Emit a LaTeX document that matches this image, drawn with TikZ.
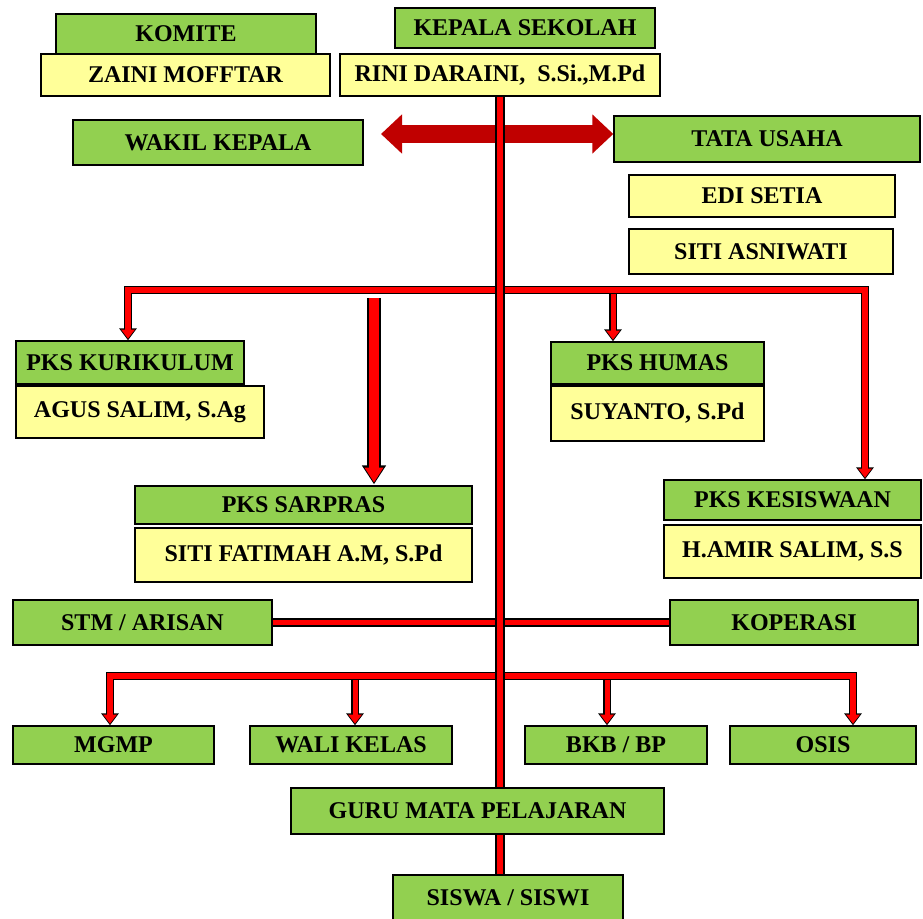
\documentclass[tikz,border=0pt]{standalone}
\usepackage{fontspec}
\setmainfont{Liberation Serif}
\usepackage{tikz}
\usetikzlibrary{arrows.meta,calc}
\definecolor{kgreen}{HTML}{92D050}
\definecolor{kyellow}{HTML}{FFFF99}
\definecolor{kred}{HTML}{FF0000}
\definecolor{kdark}{HTML}{C00000}

\begin{document}
\begin{tikzpicture}[x=1pt, y=-1pt,
  gbox/.style={draw=black, line width=1.4pt, fill=kgreen, inner sep=0pt,
    font=\bfseries\fontsize{24}{26}\selectfont},
  ybox/.style={gbox, fill=kyellow},
  rbar/.style={draw=kred, line width=5.5pt,
    preaction={draw=black, line width=8.5pt}},
  trunk/.style={draw=kred, line width=6.5pt,
    preaction={draw=black, line width=10pt}},
  rdrop/.style={draw=kred, line width=5pt, -{Triangle[length=9pt,width=13pt]}, shorten >=1.6pt,
    preaction={draw=black, line width=8pt, -{Triangle[length=12pt,width=17pt]}, shorten >=0pt}},
  rboth/.style={draw=kred, line width=5.5pt,
    {Triangle[length=9pt,width=13pt]}-{Triangle[length=9pt,width=13pt]}, shorten >=1.6pt, shorten <=1.6pt,
    preaction={draw=black, line width=8.5pt,
      {Triangle[length=12pt,width=17pt]}-{Triangle[length=12pt,width=17pt]}, shorten >=0pt, shorten <=0pt}},
  rbig/.style={draw=kred, line width=10pt, -{Triangle[length=15pt,width=18pt]}, shorten >=1.8pt,
    preaction={draw=black, line width=13.5pt, -{Triangle[length=19pt,width=23pt]}, shorten >=0pt}},
  bigarrow/.style={draw=kdark, line width=18pt,
    {Triangle[length=21pt,width=38pt]}-{Triangle[length=21pt,width=38pt]}}]
\useasboundingbox (0,0) rectangle (923,918);

% top
\node[gbox, minimum width=260pt, minimum height=40pt] (komite) at (186,34) {KOMITE};
\node[ybox, minimum width=289pt, minimum height=42pt] (zaini) at (185.5,75) {ZAINI MOFFTAR};
\node[gbox, minimum width=260pt, minimum height=40pt] (kepala) at (525,28) {KEPALA SEKOLAH};
\node[ybox, minimum width=320pt, minimum height=42pt] (rini) at (500,75) {RINI DARAINI,\ \ S.Si.,M.Pd};
\node[gbox, minimum width=290pt, minimum height=45pt] (wakil) at (218,142.5) {WAKIL KEPALA};
\node[gbox, minimum width=306pt, minimum height=46pt] (tata) at (767,139) {TATA USAHA};
\node[ybox, minimum width=266pt, minimum height=42pt] (edi) at (762,196) {EDI SETIA};
\node[ybox, minimum width=264pt, minimum height=45pt] (siti) at (761,251.5) {SITI ASNIWATI};

% pks
\node[gbox, minimum width=228pt, minimum height=43pt] (kurikulum) at (130,362.5) {PKS KURIKULUM};
\node[ybox, minimum width=248pt, minimum height=52pt] (agus) at (140,412) {AGUS SALIM, S.Ag};
\node[gbox, minimum width=213pt, minimum height=42pt] (humas) at (657.5,363) {PKS HUMAS};
\node[ybox, minimum width=213pt, minimum height=55pt] (suyanto) at (657.5,413.5) {SUYANTO, S.Pd};
\node[gbox, minimum width=337pt, minimum height=38pt] (sarpras) at (303.5,505) {PKS SARPRAS};
\node[ybox, minimum width=337pt, minimum height=54pt] (fatimah) at (303.5,555) {SITI FATIMAH A.M, S.Pd};
\node[gbox, minimum width=257pt, minimum height=40pt] (kesiswaan) at (792.5,500) {PKS KESISWAAN};
\node[ybox, minimum width=257pt, minimum height=53pt] (amir) at (792.5,551.5) {H.AMIR SALIM, S.S};

% middle and bottom
\node[gbox, minimum width=259pt, minimum height=45pt] (stm) at (142.5,622.5) {STM / ARISAN};
\node[gbox, minimum width=248pt, minimum height=45pt] (koperasi) at (794,622.5) {KOPERASI};
\node[gbox, minimum width=201pt, minimum height=38pt] (mgmp) at (113.5,745) {MGMP};
\node[gbox, minimum width=202pt, minimum height=38pt] (wali) at (351,745) {WALI KELAS};
\node[gbox, minimum width=182pt, minimum height=38pt] (bkb) at (616,745) {BKB / BP};
\node[gbox, minimum width=186pt, minimum height=38pt] (osis) at (823,745) {OSIS};
\node[gbox, minimum width=373pt, minimum height=46pt] (guru) at (477.5,811) {GURU MATA PELAJARAN};
\node[gbox, minimum width=230pt, minimum height=46pt] (siswa) at (508,898) {SISWA / SISWI};

% wakil <-> tata usaha
\coordinate (wk) at (381,134);
\draw[bigarrow] (wk) -- (wk -| tata.west);

% upper bar to the pks
\coordinate (ku) at (128,290);
\coordinate (ks) at (865,290);
\draw[rboth] (ku |- kurikulum.north) -- (ku) -- (ks) -- (ks |- kesiswaan.north);
\coordinate (hu) at (613,294);
\draw[rdrop] (hu) -- (hu |- humas.north);
\coordinate (sa) at (374,298);
\draw[rbig] (sa) -- ($(sa |- sarpras.north)+(0,-1)$);

% stm -- koperasi
\draw[rbar] (stm.east) -- (koperasi.west);

% lower bar
\coordinate (mg) at (110,676);
\coordinate (os) at (853,676);
\draw[rboth] (mg |- mgmp.north) -- (mg) -- (os) -- (os |- osis.north);
\coordinate (wl) at (355,680);
\draw[rdrop] (wl) -- (wl |- wali.north);
\coordinate (bk) at (607,680);
\draw[rdrop] (bk) -- (bk |- bkb.north);

% trunk
\draw[trunk] (rini.south) -- (rini.south |- guru.north);
\draw[trunk] (rini.south |- guru.south) -- (rini.south |- siswa.north);
\end{tikzpicture}
\end{document}
